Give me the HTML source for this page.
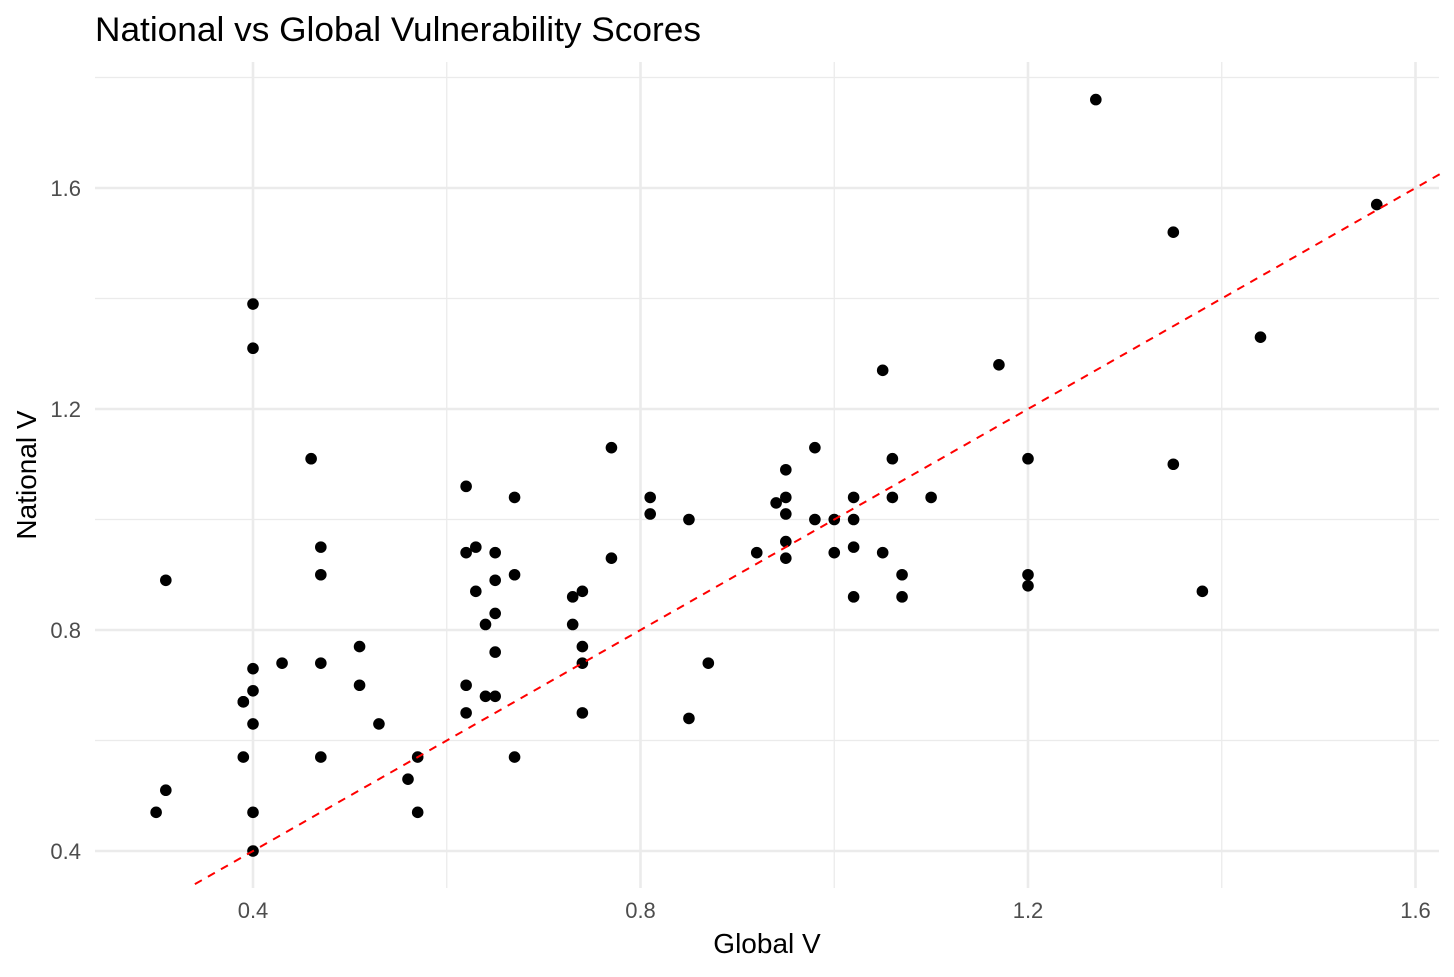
<!DOCTYPE html>
<html><head><meta charset="utf-8"><style>
html,body{margin:0;padding:0;background:#fff;}
svg text{font-family:"Liberation Sans",Arial,sans-serif;}
</style></head><body>
<svg id="chart" width="1454" height="972" xmlns="http://www.w3.org/2000/svg">
<text x="95" y="41" font-size="34" fill="#000" textLength="606" lengthAdjust="spacingAndGlyphs">National vs Global Vulnerability Scores</text>
<g id="grid"></g>
<g id="pts"></g>
<g id="ref"></g>
<g id="ticks"></g>
<text x="767" y="953" font-size="28" text-anchor="middle" fill="#000">Global V</text>
<text transform="translate(36,475) rotate(-90)" font-size="28" text-anchor="middle" fill="#000">National V</text>
</svg>
<script>
const globalV=[0.30,0.31,0.31,0.39,0.39,0.39,0.40,0.40,0.40,0.40,0.40,0.40,0.40,0.43,0.46,0.47,0.47,0.47,0.47,0.51,0.51,0.53,0.56,0.57,0.57,0.62,0.62,0.62,0.62,0.63,0.63,0.64,0.64,0.65,0.65,0.65,0.65,0.65,0.67,0.67,0.67,0.73,0.73,0.74,0.74,0.74,0.74,0.77,0.77,0.81,0.81,0.85,0.85,0.87,0.92,0.94,0.95,0.95,0.95,0.95,0.95,0.98,0.98,1.00,1.00,1.02,1.02,1.02,1.02,1.05,1.05,1.06,1.06,1.07,1.07,1.10,1.17,1.20,1.20,1.20,1.27,1.35,1.35,1.38,1.44,1.56];
const nationalV=[0.47,0.89,0.51,0.67,0.67,0.57,1.39,1.31,0.73,0.69,0.63,0.47,0.40,0.74,1.11,0.95,0.90,0.74,0.57,0.77,0.70,0.63,0.53,0.57,0.47,1.06,0.94,0.70,0.65,0.95,0.87,0.81,0.68,0.94,0.89,0.83,0.76,0.68,1.04,0.90,0.57,0.86,0.81,0.87,0.77,0.74,0.65,1.13,0.93,1.04,1.01,1.00,0.64,0.74,0.94,1.03,1.09,1.04,1.01,0.96,0.93,1.13,1.00,1.00,0.94,1.04,1.00,0.95,0.86,1.27,0.94,1.11,1.04,0.90,0.86,1.04,1.28,1.11,0.90,0.88,1.76,1.52,1.10,0.87,1.33,1.57];
const xTicks=[0.4,0.8,1.2,1.6];
const yTicks=[0.4,0.8,1.2,1.6];
const xMinor=[0.6,1.0,1.4];
const yMinor=[0.6,1.0,1.4,1.8];
const refLine=[0.34,1.625];
const L=95,R=1439,T=62,B=888;
const xs=v=>253+(v-0.4)*968.75;
const ys=v=>851-(v-0.4)*552.5;
const NS="http://www.w3.org/2000/svg";
function mk(tag,attrs,parent){const e=document.createElementNS(NS,tag);for(const k in attrs)e.setAttribute(k,attrs[k]);parent.appendChild(e);return e;}
const grid=document.getElementById('grid'),ticks=document.getElementById('ticks');
yMinor.forEach(v=>{const e=mk('line',{x1:L,x2:R,y1:ys(v),y2:ys(v),stroke:'#ebebeb','stroke-width':1.3},grid);

});
xMinor.forEach(v=>{const e=mk('line',{x1:xs(v),x2:xs(v),y1:T,y2:B,stroke:'#ebebeb','stroke-width':1.3},grid);

});
yTicks.forEach(v=>{const e=mk('line',{x1:L,x2:R,y1:ys(v),y2:ys(v),stroke:'#ebebeb','stroke-width':2.6},grid);


const t=mk('text',{x:81,y:ys(v)+8,'font-size':22,'text-anchor':'end',fill:'#4d4d4d'},ticks);t.textContent=v.toFixed(1);

});
xTicks.forEach(v=>{const e=mk('line',{x1:xs(v),x2:xs(v),y1:T,y2:B,stroke:'#ebebeb','stroke-width':2.6},grid);


const t=mk('text',{x:xs(v),y:918,'font-size':22,'text-anchor':'middle',fill:'#4d4d4d'},ticks);t.textContent=v.toFixed(1);

});
const pts=document.getElementById('pts');
globalV.forEach((g,i)=>{const c=mk('circle',{cx:xs(g),cy:ys(nationalV[i]),r:5.8,fill:'#000'},pts);

});
const rl=mk('line',{x1:xs(refLine[0]),y1:ys(refLine[0]),x2:xs(refLine[1]),y2:ys(refLine[1]),stroke:'#ff0000','stroke-width':2,'stroke-dasharray':'8 7'},document.getElementById('ref'));


</script>
</body></html>
